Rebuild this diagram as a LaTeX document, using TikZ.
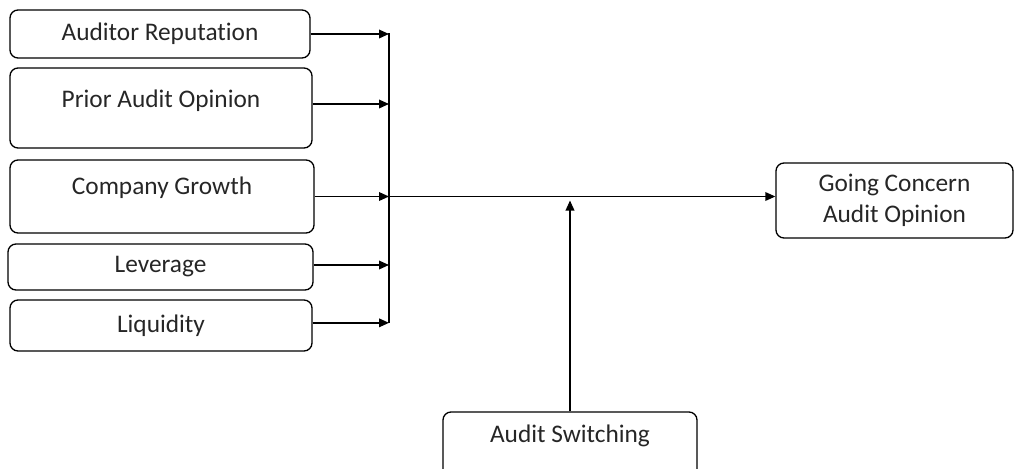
\documentclass[tikz,border=0pt]{standalone}
\usepackage{fontspec}
\setmainfont{Carlito}[Ligatures=NoCommon]
\usetikzlibrary{arrows.meta,positioning}

\tikzset{
    varbox/.style={draw, rounded corners=6pt, line width=1pt, inner sep=0pt,
        font=\fontsize{19}{23}\selectfont, text=black!85},
    flow/.style={line width=1pt, -{Triangle[length=7.5pt,width=6.5pt]}},
    bus/.style={line width=1pt},
}

\begin{document}
\begin{tikzpicture}[x=0.75pt, y=-0.75pt]
        \clip (0,0) rectangle (1014,468);
        \node[varbox, minimum width=225pt, minimum height=36pt] (rep) at (160,34) {Auditor Reputation};
        \node[varbox, minimum width=226.5pt, minimum height=60pt, text depth=14pt] (prior) at (161,108) {Prior Audit Opinion};
        \node[varbox, minimum width=228pt, minimum height=54.75pt, text depth=16pt] (growth) at (162,196.5) {Company Growth};
        \node[varbox, minimum width=228.75pt, minimum height=34.5pt] (lev) at (160.5,267) {Leverage};
        \node[varbox, minimum width=226.5pt, minimum height=38.25pt] (liq) at (161,325.5) {Liquidity};
        \node[varbox, minimum width=177.75pt, minimum height=56.25pt, align=center] (gca) at (894.5,200.5) {Going Concern\\Audit Opinion};
        \node[varbox, minimum width=190.5pt, minimum height=60pt, text depth=28pt] (sw) at (570,452) {Audit Switching};
        \coordinate (bustop) at (389,33);
        \coordinate (busbot) at (389,323);
        \draw[bus] (bustop) -- (busbot);
        \draw[flow] (rep.east) -- (rep.east -| bustop);
        \draw[flow] ([yshift=3pt]prior.east) -- ([yshift=3pt]prior.east -| bustop);
        \draw[flow] (growth.east) -- (growth.east -| bustop);
        \draw[flow] ([yshift=1.5pt]lev.east) -- ([yshift=1.5pt]lev.east -| bustop);
        \draw[flow] ([yshift=2pt]liq.east) -- ([yshift=2pt]liq.east -| bustop);
        \draw[flow] (growth.east -| bustop) -- (growth.east -| gca.west);
        \draw[flow, shorten >=3pt] (sw.north) -- (sw.north |- growth.east);
    \end{tikzpicture}
\end{document}
